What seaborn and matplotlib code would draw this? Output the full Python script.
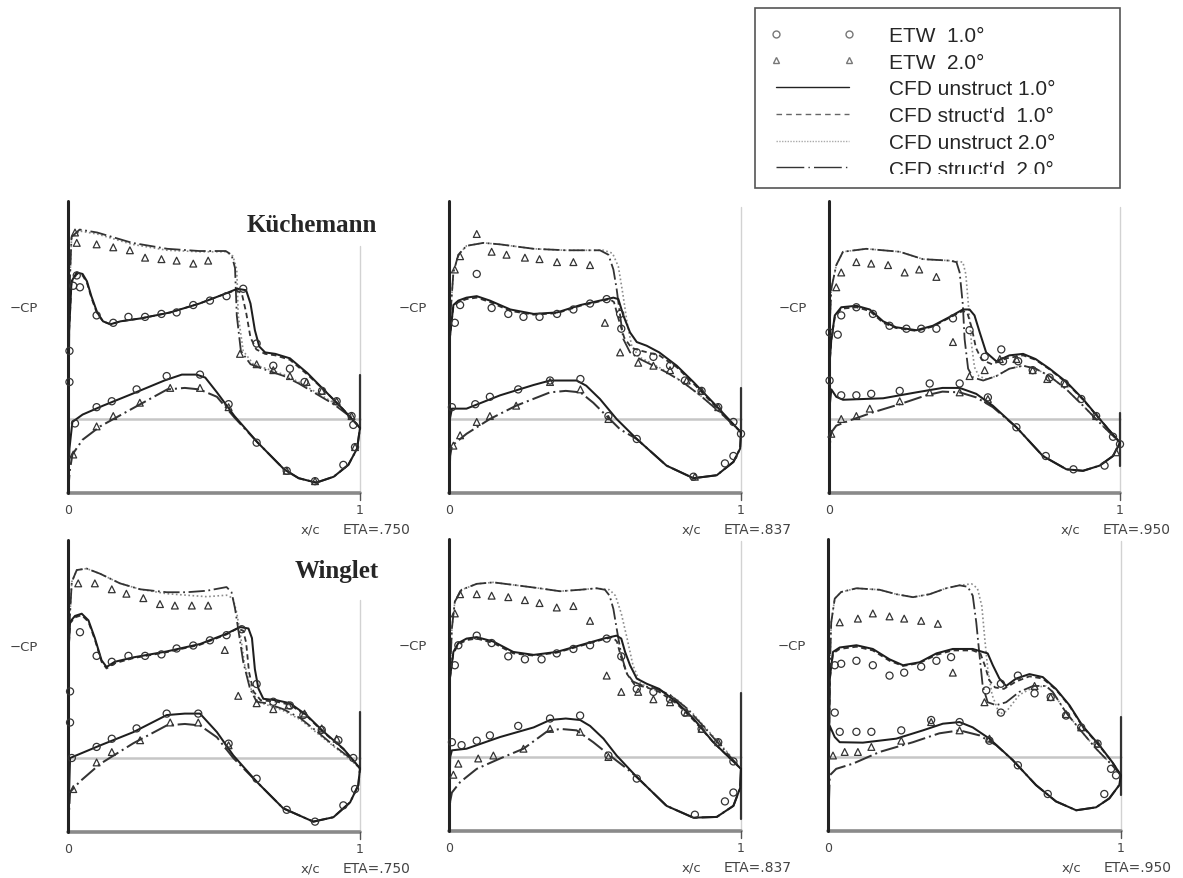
import matplotlib
matplotlib.use("Agg")
import matplotlib.pyplot as plt
from matplotlib.lines import Line2D
from matplotlib.patches import Rectangle
import seaborn as sns

sns.set_style("white")
plt.rcParams['font.family'] = ['DejaVu Sans']

# ---- data: (x/c, -Cp) ----
# Kuechemann tip, ETA=.750
k750_u10 = [(0, -0.5), (0.004, 0.6), (0.012, 0.93), (0.03, 0.99), (0.05, 0.98), (0.065, 0.93), (0.08, 0.83),
            (0.1, 0.72), (0.12, 0.66), (0.145, 0.64), (0.18, 0.66), (0.25, 0.68), (0.35, 0.72), (0.45, 0.78),
            (0.53, 0.84), (0.58, 0.88), (0.61, 0.87), (0.625, 0.78), (0.64, 0.6), (0.655, 0.49), (0.675, 0.45),
            (0.71, 0.44), (0.76, 0.41), (0.82, 0.31), (0.88, 0.19), (0.94, 0.07), (1.0, -0.06)]
k750_s10 = [(0, -0.5), (0.004, 0.6), (0.012, 0.92), (0.03, 0.98), (0.05, 0.97), (0.065, 0.92), (0.08, 0.82),
            (0.1, 0.71), (0.12, 0.66), (0.145, 0.64), (0.18, 0.66), (0.25, 0.68), (0.35, 0.72), (0.45, 0.78),
            (0.53, 0.84), (0.575, 0.87), (0.595, 0.85), (0.61, 0.72), (0.625, 0.55), (0.645, 0.47), (0.675, 0.44),
            (0.71, 0.43), (0.76, 0.40), (0.82, 0.30), (0.88, 0.19), (0.94, 0.07), (1.0, -0.06)]
k750_u20 = [(0, -0.5), (0.004, 0.8), (0.012, 1.22), (0.04, 1.27), (0.1, 1.25), (0.22, 1.18), (0.34, 1.14),
            (0.45, 1.13), (0.54, 1.13), (0.565, 1.1), (0.578, 1.01), (0.583, 0.7), (0.6, 0.46), (0.635, 0.37),
            (0.68, 0.34), (0.74, 0.3), (0.79, 0.25), (0.85, 0.18), (0.91, 0.11), (0.97, 0.02), (1.0, -0.06)]
k750_s20 = [(0, -0.5), (0.004, 0.8), (0.012, 1.23), (0.04, 1.28), (0.1, 1.26), (0.22, 1.19), (0.34, 1.15),
            (0.45, 1.135), (0.54, 1.135), (0.56, 1.11), (0.572, 1.02), (0.578, 0.7), (0.592, 0.46), (0.625, 0.37),
            (0.68, 0.33), (0.74, 0.29), (0.79, 0.24), (0.85, 0.17), (0.91, 0.1), (0.97, 0.01), (1.0, -0.06)]
k750_lo10 = [(0, -0.5), (0.005, -0.2), (0.015, -0.02), (0.05, 0.03), (0.12, 0.09), (0.22, 0.17), (0.33, 0.26),
             (0.39, 0.3), (0.44, 0.3), (0.47, 0.28), (0.51, 0.18), (0.57, 0.02), (0.65, -0.16), (0.74, -0.34),
             (0.79, -0.4), (0.85, -0.43), (0.91, -0.39), (0.96, -0.31), (0.99, -0.2), (1.0, -0.06)]
k750_lo20 = [(0, -0.5), (0.006, -0.35), (0.015, -0.24), (0.05, -0.14), (0.11, -0.05), (0.22, 0.07), (0.34, 0.2),
             (0.4, 0.21), (0.45, 0.2), (0.51, 0.15), (0.57, 0.01), (0.65, -0.16), (0.74, -0.34), (0.79, -0.4),
             (0.85, -0.43), (0.91, -0.39), (0.96, -0.31), (0.99, -0.2), (1.0, -0.06)]
k750_etw10 = [(0.03, 0.97), (0.018, 0.9), (0.041, 0.89), (0.098, 0.7), (0.155, 0.65), (0.207, 0.69), (0.264, 0.69),
              (0.32, 0.71), (0.372, 0.72), (0.429, 0.77), (0.486, 0.8), (0.543, 0.83), (0.6, 0.88), (0.646, 0.51),
              (0.703, 0.36), (0.76, 0.34), (0.81, 0.25), (0.87, 0.19), (0.92, 0.12), (0.971, 0.02),
              (0.005, 0.46), (0.005, 0.25), (0.024, -0.03), (0.098, 0.08), (0.15, 0.12), (0.235, 0.2), (0.338, 0.29),
              (0.452, 0.3), (0.55, 0.1), (0.646, -0.16), (0.749, -0.35), (0.846, -0.42), (0.943, -0.31),
              (0.983, -0.19), (0.977, -0.04)]
k750_etw20 = [(0.024, 1.26), (0.03, 1.19), (0.098, 1.18), (0.155, 1.16), (0.212, 1.14), (0.264, 1.09), (0.32, 1.08),
              (0.372, 1.07), (0.429, 1.05), (0.48, 1.07), (0.589, 0.44), (0.646, 0.37), (0.703, 0.33), (0.76, 0.29),
              (0.817, 0.25), (0.869, 0.19), (0.92, 0.12), (0.971, 0.02),
              (0.018, -0.24), (0.098, -0.05), (0.155, 0.02), (0.246, 0.11), (0.35, 0.21), (0.452, 0.21),
              (0.55, 0.08), (0.749, -0.35), (0.846, -0.42), (0.983, -0.19)]

# Kuechemann tip, ETA=.837
k837_u10 = [(0, -0.5), (0.003, 0.55), (0.015, 0.77), (0.032, 0.8), (0.06, 0.82), (0.095, 0.83), (0.14, 0.8),
            (0.21, 0.74), (0.29, 0.71), (0.37, 0.72), (0.45, 0.77), (0.517, 0.8), (0.563, 0.82), (0.58, 0.81),
            (0.597, 0.70), (0.62, 0.585), (0.643, 0.52), (0.677, 0.495), (0.72, 0.45), (0.78, 0.36), (0.837, 0.25),
            (0.905, 0.11), (1.0, -0.09)]
k837_s10 = [(0, -0.5), (0.003, 0.55), (0.015, 0.76), (0.032, 0.79), (0.06, 0.81), (0.095, 0.82), (0.14, 0.79),
            (0.21, 0.73), (0.29, 0.705), (0.37, 0.715), (0.45, 0.765), (0.517, 0.795), (0.55, 0.81), (0.565, 0.79),
            (0.58, 0.68), (0.6, 0.55), (0.625, 0.48), (0.66, 0.46), (0.72, 0.43), (0.78, 0.35), (0.837, 0.24),
            (0.905, 0.1), (1.0, -0.09)]
k837_u20 = [(0, -0.5), (0.003, 0.65), (0.015, 0.99), (0.032, 1.11), (0.06, 1.17), (0.118, 1.19), (0.175, 1.18),
            (0.29, 1.15), (0.40, 1.14), (0.53, 1.14), (0.56, 1.12), (0.58, 1.03), (0.595, 0.85), (0.61, 0.65),
            (0.625, 0.5), (0.65, 0.42), (0.70, 0.37), (0.745, 0.32), (0.80, 0.25), (0.86, 0.16), (0.928, 0.045),
            (1.0, -0.09)]
k837_s20 = [(0, -0.5), (0.003, 0.65), (0.015, 0.99), (0.032, 1.11), (0.06, 1.17), (0.118, 1.19), (0.175, 1.18),
            (0.29, 1.15), (0.40, 1.14), (0.517, 1.14), (0.546, 1.11), (0.563, 1.01), (0.574, 0.88), (0.586, 0.70),
            (0.597, 0.54), (0.62, 0.45), (0.654, 0.405), (0.70, 0.36), (0.745, 0.315), (0.80, 0.25), (0.86, 0.16),
            (0.928, 0.045), (1.0, -0.09)]
k837_lo10 = [(0, -0.5), (0.003, 0.0), (0.01, 0.07), (0.06, 0.07), (0.175, 0.16), (0.29, 0.23), (0.346, 0.26),
             (0.40, 0.26), (0.437, 0.26), (0.47, 0.225), (0.517, 0.135), (0.574, 0.0), (0.643, -0.135),
             (0.745, -0.315), (0.837, -0.40), (0.917, -0.38), (0.974, -0.29), (0.997, -0.2), (1.0, -0.09)]
k837_lo20 = [(0, -0.5), (0.004, -0.25), (0.01, -0.18), (0.06, -0.10), (0.14, 0.0), (0.23, 0.09), (0.346, 0.18),
             (0.40, 0.19), (0.45, 0.18), (0.494, 0.11), (0.54, 0.02), (0.586, -0.07), (0.643, -0.135),
             (0.745, -0.315), (0.837, -0.40), (0.917, -0.38), (0.974, -0.29), (0.997, -0.2), (1.0, -0.09)]
k837_etw10 = [(0.095, 0.98), (0.02, 0.65), (0.038, 0.77), (0.146, 0.75), (0.203, 0.71), (0.255, 0.69), (0.31, 0.69),
              (0.37, 0.71), (0.426, 0.74), (0.483, 0.78), (0.54, 0.81), (0.586, 0.71), (0.59, 0.61), (0.643, 0.45),
              (0.70, 0.42), (0.757, 0.36), (0.808, 0.26), (0.865, 0.19), (0.922, 0.08), (0.974, -0.02),
              (0.01, 0.08), (0.09, 0.1), (0.14, 0.15), (0.237, 0.2), (0.346, 0.26), (0.45, 0.27), (0.546, 0.02),
              (0.643, -0.135), (0.837, -0.39), (0.945, -0.3), (0.974, -0.25), (1.0, -0.1)]
k837_etw20 = [(0.095, 1.25), (0.02, 1.01), (0.038, 1.10), (0.146, 1.13), (0.197, 1.11), (0.26, 1.09), (0.31, 1.08),
              (0.37, 1.06), (0.426, 1.06), (0.483, 1.04), (0.534, 0.65), (0.586, 0.45), (0.648, 0.38), (0.70, 0.36),
              (0.757, 0.33), (0.814, 0.26), (0.865, 0.19), (0.922, 0.08),
              (0.015, -0.18), (0.038, -0.11), (0.095, -0.02), (0.14, 0.02), (0.23, 0.09), (0.346, 0.25),
              (0.45, 0.2), (0.546, 0.0), (0.842, -0.39)]

# Kuechemann tip, ETA=.950
k950_u10 = [(0, -0.5), (0.003, 0.4), (0.008, 0.54), (0.02, 0.70), (0.042, 0.755), (0.094, 0.765), (0.14, 0.74),
            (0.186, 0.66), (0.23, 0.62), (0.30, 0.60), (0.357, 0.63), (0.415, 0.69), (0.46, 0.74), (0.483, 0.74),
            (0.50, 0.70), (0.518, 0.585), (0.54, 0.45), (0.575, 0.39), (0.62, 0.43), (0.667, 0.44), (0.71, 0.405),
            (0.758, 0.34), (0.816, 0.25), (0.873, 0.135), (0.93, 0.0), (1.0, -0.16)]
k950_s10 = [(0, -0.5), (0.003, 0.4), (0.008, 0.53), (0.02, 0.69), (0.042, 0.745), (0.094, 0.755), (0.14, 0.73),
            (0.186, 0.65), (0.23, 0.615), (0.30, 0.595), (0.357, 0.625), (0.415, 0.685), (0.46, 0.73),
            (0.475, 0.72), (0.49, 0.62), (0.505, 0.48), (0.525, 0.40), (0.56, 0.37), (0.61, 0.41), (0.667, 0.43),
            (0.71, 0.40), (0.758, 0.335), (0.816, 0.245), (0.873, 0.13), (0.93, 0.0), (1.0, -0.16)]
k950_u20 = [(0, -0.5), (0.004, 0.7), (0.008, 0.88), (0.025, 1.04), (0.048, 1.13), (0.128, 1.15), (0.243, 1.13),
            (0.323, 1.08), (0.415, 1.07), (0.46, 1.06), (0.47, 0.98), (0.48, 0.75), (0.49, 0.5), (0.5, 0.35),
            (0.515, 0.29), (0.54, 0.27), (0.575, 0.29), (0.62, 0.34), (0.667, 0.36), (0.71, 0.34), (0.758, 0.29),
            (0.816, 0.2), (0.873, 0.09), (0.94, -0.045), (1.0, -0.16)]
k950_s20 = [(0, -0.5), (0.004, 0.7), (0.008, 0.88), (0.025, 1.04), (0.048, 1.13), (0.128, 1.15), (0.243, 1.13),
            (0.323, 1.08), (0.415, 1.07), (0.438, 1.06), (0.449, 0.99), (0.46, 0.77), (0.466, 0.54), (0.478, 0.34),
            (0.495, 0.28), (0.53, 0.26), (0.575, 0.29), (0.62, 0.34), (0.667, 0.36), (0.71, 0.34), (0.758, 0.29),
            (0.816, 0.2), (0.873, 0.09), (0.94, -0.045), (1.0, -0.16)]
k950_lo10 = [(0, -0.5), (0.003, 0.1), (0.008, 0.2), (0.025, 0.15), (0.048, 0.13), (0.186, 0.14), (0.30, 0.18),
             (0.39, 0.21), (0.449, 0.21), (0.506, 0.17), (0.563, 0.09), (0.644, -0.056), (0.735, -0.25),
             (0.816, -0.34), (0.873, -0.35), (0.93, -0.315), (0.976, -0.25), (1.0, -0.16)]
k950_lo20 = [(0, -0.5), (0.004, -0.15), (0.008, -0.09), (0.025, -0.045), (0.071, -0.01), (0.151, 0.045),
             (0.243, 0.10), (0.334, 0.16), (0.39, 0.185), (0.449, 0.18), (0.506, 0.146), (0.563, 0.08),
             (0.644, -0.056), (0.735, -0.25), (0.816, -0.34), (0.873, -0.35), (0.93, -0.315), (0.976, -0.25),
             (1.0, -0.16)]
k950_etw10 = [(0.002, 0.585), (0.03, 0.57), (0.042, 0.70), (0.094, 0.755), (0.151, 0.71), (0.208, 0.63),
              (0.266, 0.61), (0.317, 0.61), (0.369, 0.61), (0.426, 0.68), (0.483, 0.60), (0.535, 0.42),
              (0.592, 0.47), (0.598, 0.39), (0.65, 0.39), (0.70, 0.33), (0.758, 0.28), (0.81, 0.24), (0.867, 0.135),
              (0.918, 0.02), (0.976, -0.12), (0.947, -0.315),
              (0.002, 0.26), (0.042, 0.16), (0.094, 0.16), (0.145, 0.17), (0.243, 0.19), (0.346, 0.24),
              (0.449, 0.24), (0.546, 0.146), (0.644, -0.056), (0.745, -0.25), (0.84, -0.34), (1.0, -0.17)]
k950_etw20 = [(0.025, 0.89), (0.042, 0.99), (0.094, 1.06), (0.145, 1.05), (0.203, 1.04), (0.26, 0.99), (0.31, 1.01),
              (0.369, 0.96), (0.426, 0.52), (0.483, 0.29), (0.535, 0.33), (0.587, 0.405), (0.644, 0.405),
              (0.70, 0.33), (0.75, 0.27), (0.81, 0.24), (0.918, 0.02), (0.987, -0.225),
              (0.008, -0.1), (0.042, 0.0), (0.094, 0.02), (0.14, 0.07), (0.243, 0.12), (0.346, 0.18),
              (0.449, 0.18), (0.546, 0.135)]

# Winglet, ETA=.750
w750_u10 = [(0, -0.5), (0.0, 0.65), (0.007, 0.92), (0.024, 0.96), (0.047, 0.975), (0.07, 0.93), (0.092, 0.81),
            (0.115, 0.66), (0.132, 0.615), (0.16, 0.65), (0.224, 0.68), (0.338, 0.72), (0.452, 0.77), (0.543, 0.84),
            (0.589, 0.885), (0.618, 0.875), (0.63, 0.81), (0.64, 0.60), (0.652, 0.47), (0.669, 0.40), (0.715, 0.39),
            (0.76, 0.37), (0.817, 0.29), (0.874, 0.18), (0.943, 0.063), (1.0, -0.07)]
w750_s10 = [(0, -0.5), (0.0, 0.65), (0.007, 0.91), (0.024, 0.95), (0.047, 0.965), (0.07, 0.92), (0.092, 0.80),
            (0.115, 0.65), (0.132, 0.605), (0.16, 0.64), (0.224, 0.675), (0.338, 0.715), (0.452, 0.765),
            (0.543, 0.835), (0.58, 0.875), (0.60, 0.86), (0.61, 0.78), (0.62, 0.58), (0.635, 0.45), (0.66, 0.39),
            (0.715, 0.38), (0.76, 0.36), (0.817, 0.285), (0.874, 0.175), (0.943, 0.06), (1.0, -0.07)]
w750_u20 = [(0, -0.5), (0.004, 0.87), (0.013, 1.19), (0.03, 1.27), (0.064, 1.28), (0.11, 1.245), (0.178, 1.18),
            (0.247, 1.14), (0.338, 1.11), (0.406, 1.10), (0.475, 1.09), (0.543, 1.10), (0.565, 1.08), (0.578, 0.98),
            (0.59, 0.84), (0.605, 0.63), (0.628, 0.46), (0.65, 0.38), (0.68, 0.36), (0.737, 0.32), (0.795, 0.26),
            (0.852, 0.17), (0.909, 0.08), (0.966, -0.01), (1.0, -0.07)]
w750_s20 = [(0, -0.5), (0.004, 0.87), (0.013, 1.19), (0.03, 1.27), (0.064, 1.28), (0.11, 1.245), (0.178, 1.18),
            (0.247, 1.14), (0.338, 1.12), (0.406, 1.12), (0.475, 1.13), (0.543, 1.155), (0.56, 1.12), (0.572, 1.01),
            (0.583, 0.87), (0.60, 0.65), (0.623, 0.47), (0.646, 0.38), (0.68, 0.37), (0.737, 0.33), (0.795, 0.27),
            (0.852, 0.18), (0.909, 0.086), (0.966, 0.0), (1.0, -0.07)]
w750_lo10 = [(0, -0.5), (0.007, 0.0), (0.11, 0.085), (0.224, 0.175), (0.338, 0.29), (0.40, 0.30), (0.452, 0.30),
             (0.51, 0.175), (0.566, 0.018), (0.646, -0.16), (0.737, -0.34), (0.84, -0.43), (0.909, -0.40),
             (0.966, -0.30), (0.994, -0.185), (1.0, -0.07)]
w750_lo20 = [(0, -0.5), (0.007, -0.23), (0.04, -0.16), (0.11, -0.04), (0.224, 0.10), (0.338, 0.22), (0.40, 0.23),
             (0.452, 0.22), (0.51, 0.14), (0.566, 0.0), (0.646, -0.16), (0.737, -0.34), (0.84, -0.43),
             (0.909, -0.40), (0.966, -0.30), (0.994, -0.185), (1.0, -0.07)]
w750_etw10 = [(0.041, 0.85), (0.098, 0.69), (0.15, 0.65), (0.207, 0.69), (0.264, 0.69), (0.32, 0.70), (0.372, 0.74),
              (0.429, 0.76), (0.486, 0.795), (0.543, 0.83), (0.595, 0.87), (0.646, 0.50), (0.703, 0.38),
              (0.76, 0.355), (0.806, 0.29), (0.869, 0.19), (0.926, 0.12), (0.977, 0.0),
              (0.007, 0.45), (0.007, 0.24), (0.013, 0.0), (0.098, 0.075), (0.15, 0.13), (0.235, 0.2), (0.338, 0.30),
              (0.446, 0.30), (0.55, 0.097), (0.646, -0.14), (0.749, -0.35), (0.846, -0.43), (0.943, -0.32),
              (0.983, -0.21)]
w750_etw20 = [(0.035, 1.18), (0.092, 1.18), (0.15, 1.14), (0.20, 1.11), (0.258, 1.08), (0.315, 1.04), (0.366, 1.03),
              (0.424, 1.03), (0.48, 1.03), (0.537, 0.73), (0.583, 0.42), (0.646, 0.37), (0.703, 0.33),
              (0.755, 0.356), (0.81, 0.30), (0.869, 0.2), (0.92, 0.13),
              (0.018, -0.21), (0.098, -0.03), (0.15, 0.04), (0.247, 0.12), (0.35, 0.24), (0.446, 0.24),
              (0.55, 0.086)]

# Winglet, ETA=.837
w837_u10 = [(0, -0.5), (0.003, 0.53), (0.015, 0.71), (0.032, 0.77), (0.06, 0.80), (0.095, 0.81), (0.152, 0.78),
            (0.22, 0.71), (0.29, 0.69), (0.369, 0.71), (0.449, 0.755), (0.529, 0.80), (0.574, 0.82), (0.59, 0.80),
            (0.603, 0.71), (0.62, 0.62), (0.643, 0.53), (0.677, 0.495), (0.72, 0.46), (0.78, 0.37), (0.837, 0.26),
            (0.905, 0.10), (1.0, -0.08)]
w837_s10 = [(0, -0.5), (0.003, 0.53), (0.015, 0.70), (0.032, 0.76), (0.06, 0.79), (0.095, 0.80), (0.152, 0.77),
            (0.22, 0.70), (0.29, 0.685), (0.369, 0.705), (0.449, 0.75), (0.529, 0.795), (0.56, 0.81), (0.575, 0.78),
            (0.59, 0.67), (0.61, 0.56), (0.635, 0.49), (0.677, 0.47), (0.72, 0.44), (0.78, 0.36), (0.837, 0.25),
            (0.905, 0.10), (1.0, -0.08)]
w837_u20 = [(0, -0.5), (0.003, 0.53), (0.01, 0.87), (0.02, 1.05), (0.043, 1.13), (0.095, 1.17), (0.152, 1.18),
            (0.232, 1.16), (0.31, 1.14), (0.38, 1.12), (0.449, 1.13), (0.506, 1.14), (0.55, 1.13), (0.57, 1.09),
            (0.59, 0.97), (0.61, 0.8), (0.63, 0.62), (0.655, 0.5), (0.69, 0.46), (0.73, 0.44), (0.78, 0.39),
            (0.837, 0.29), (0.9, 0.15), (0.95, 0.04), (1.0, -0.08)]
w837_s20 = [(0, -0.5), (0.003, 0.53), (0.01, 0.87), (0.02, 1.05), (0.043, 1.13), (0.095, 1.17), (0.152, 1.18),
            (0.232, 1.16), (0.31, 1.14), (0.38, 1.12), (0.449, 1.13), (0.506, 1.14), (0.534, 1.13), (0.55, 1.09),
            (0.563, 1.0), (0.574, 0.87), (0.59, 0.69), (0.608, 0.57), (0.63, 0.51), (0.666, 0.48), (0.71, 0.46),
            (0.757, 0.42), (0.814, 0.33), (0.87, 0.21), (0.928, 0.08), (1.0, -0.08)]
w837_lo10 = [(0, -0.5), (0.004, 0.0), (0.01, 0.045), (0.06, 0.056), (0.175, 0.135), (0.29, 0.2), (0.346, 0.25),
             (0.40, 0.26), (0.449, 0.25), (0.483, 0.21), (0.529, 0.124), (0.574, 0.01), (0.643, -0.135),
             (0.745, -0.33), (0.837, -0.41), (0.917, -0.405), (0.974, -0.33), (0.997, -0.21), (1.0, -0.08)]
w837_lo20 = [(0, -0.5), (0.004, -0.3), (0.01, -0.24), (0.038, -0.17), (0.095, -0.08), (0.175, -0.01),
             (0.255, 0.056), (0.334, 0.17), (0.38, 0.19), (0.437, 0.18), (0.494, 0.10), (0.551, 0.01),
             (0.61, -0.08), (0.643, -0.135), (0.745, -0.33), (0.837, -0.41), (0.917, -0.405), (0.974, -0.33),
             (0.997, -0.21), (1.0, -0.08)]
w837_etw10 = [(0.02, 0.62), (0.032, 0.755), (0.095, 0.82), (0.146, 0.77), (0.203, 0.68), (0.26, 0.66),
              (0.317, 0.66), (0.369, 0.70), (0.426, 0.73), (0.483, 0.755), (0.54, 0.80), (0.59, 0.68),
              (0.643, 0.46), (0.70, 0.44), (0.757, 0.39), (0.808, 0.30), (0.865, 0.19), (0.922, 0.10),
              (0.974, -0.03),
              (0.01, 0.10), (0.043, 0.08), (0.095, 0.11), (0.14, 0.146), (0.237, 0.21), (0.346, 0.26),
              (0.449, 0.28), (0.546, 0.01), (0.643, -0.146), (0.842, -0.39), (0.945, -0.30), (0.974, -0.24)]
w837_etw20 = [(0.02, 0.97), (0.038, 1.10), (0.095, 1.10), (0.146, 1.09), (0.203, 1.08), (0.26, 1.06), (0.31, 1.04),
              (0.369, 1.01), (0.426, 1.02), (0.483, 0.92), (0.54, 0.55), (0.59, 0.44), (0.648, 0.44), (0.70, 0.39),
              (0.757, 0.37), (0.814, 0.30), (0.865, 0.19), (0.922, 0.10),
              (0.015, -0.12), (0.032, -0.045), (0.10, -0.01), (0.152, 0.01), (0.255, 0.056), (0.346, 0.19),
              (0.449, 0.17), (0.546, 0.0)]

# Winglet, ETA=.950
w950_u10 = [(0, -0.5), (0.006, 0.53), (0.017, 0.71), (0.04, 0.74), (0.097, 0.755), (0.153, 0.73), (0.21, 0.66),
            (0.256, 0.62), (0.3125, 0.64), (0.37, 0.70), (0.426, 0.73), (0.494, 0.73), (0.528, 0.71), (0.545, 0.70),
            (0.5625, 0.62), (0.585, 0.53), (0.608, 0.48), (0.642, 0.53), (0.6875, 0.56), (0.733, 0.54),
            (0.778, 0.46), (0.824, 0.35), (0.869, 0.21), (0.926, 0.08), (0.97, -0.034), (1.0, -0.124)]
w950_s10 = [(0, -0.5), (0.006, 0.52), (0.017, 0.70), (0.04, 0.73), (0.097, 0.745), (0.153, 0.72), (0.21, 0.65),
            (0.256, 0.615), (0.3125, 0.635), (0.37, 0.69), (0.426, 0.72), (0.494, 0.72), (0.52, 0.70),
            (0.535, 0.62), (0.55, 0.52), (0.57, 0.47), (0.6, 0.46), (0.642, 0.51), (0.6875, 0.545), (0.733, 0.53),
            (0.778, 0.455), (0.824, 0.345), (0.869, 0.205), (0.926, 0.075), (0.97, -0.034), (1.0, -0.124)]
w950_u20 = [(0, -0.5), (0.006, 0.57), (0.011, 0.91), (0.023, 1.07), (0.045, 1.115), (0.097, 1.14), (0.176, 1.13),
            (0.233, 1.10), (0.29, 1.08), (0.347, 1.10), (0.403, 1.14), (0.449, 1.16), (0.49, 1.17), (0.51, 1.14),
            (0.525, 1.02), (0.535, 0.8), (0.545, 0.6), (0.56, 0.42), (0.585, 0.29), (0.61, 0.31), (0.653, 0.42),
            (0.70, 0.47), (0.744, 0.48), (0.767, 0.44), (0.8125, 0.30), (0.858, 0.19), (0.915, 0.056),
            (0.97, -0.056), (1.0, -0.124)]
w950_s20 = [(0, -0.5), (0.006, 0.57), (0.011, 0.91), (0.023, 1.07), (0.045, 1.115), (0.097, 1.14), (0.176, 1.13),
            (0.233, 1.10), (0.29, 1.08), (0.347, 1.10), (0.403, 1.14), (0.449, 1.16), (0.477, 1.15), (0.494, 1.09),
            (0.506, 0.91), (0.517, 0.69), (0.528, 0.48), (0.545, 0.37), (0.574, 0.35), (0.608, 0.37),
            (0.653, 0.44), (0.70, 0.48), (0.744, 0.48), (0.767, 0.44), (0.8125, 0.30), (0.858, 0.19),
            (0.915, 0.056), (0.97, -0.056), (1.0, -0.124)]
w950_lo10 = [(0, -0.5), (0.003, 0.1), (0.006, 0.21), (0.023, 0.135), (0.04, 0.10), (0.119, 0.097), (0.233, 0.124),
             (0.324, 0.18), (0.392, 0.225), (0.449, 0.236), (0.494, 0.20), (0.551, 0.124), (0.63, -0.02),
             (0.71, -0.19), (0.778, -0.30), (0.847, -0.36), (0.915, -0.34), (0.96, -0.28), (0.994, -0.19),
             (1.0, -0.124)]
w950_lo20 = [(0, -0.5), (0.006, -0.124), (0.028, -0.08), (0.085, -0.045), (0.176, 0.034), (0.29, 0.10),
             (0.38, 0.16), (0.449, 0.18), (0.517, 0.146), (0.574, 0.08), (0.63, -0.02), (0.71, -0.19),
             (0.778, -0.30), (0.847, -0.36), (0.915, -0.34), (0.96, -0.28), (0.994, -0.19), (1.0, -0.124)]
w950_etw10 = [(0.023, 0.62), (0.045, 0.63), (0.097, 0.65), (0.153, 0.62), (0.21, 0.55), (0.26, 0.57),
              (0.318, 0.61), (0.37, 0.65), (0.42, 0.675), (0.54, 0.45), (0.59, 0.495), (0.648, 0.55), (0.59, 0.30),
              (0.705, 0.43), (0.76, 0.405), (0.8125, 0.28), (0.864, 0.2), (0.92, 0.09), (0.966, -0.08),
              (0.983, -0.124), (0.943, -0.25),
              (0.023, 0.30), (0.04, 0.17), (0.097, 0.17), (0.148, 0.17), (0.25, 0.18), (0.352, 0.25),
              (0.449, 0.236), (0.551, 0.11), (0.648, -0.056), (0.75, -0.25)]
w950_etw20 = [(0.04, 0.91), (0.102, 0.935), (0.153, 0.97), (0.21, 0.95), (0.26, 0.935), (0.318, 0.92),
              (0.375, 0.90), (0.426, 0.57), (0.534, 0.37), (0.705, 0.48), (0.76, 0.405), (0.8125, 0.29),
              (0.864, 0.2), (0.92, 0.09),
              (0.017, 0.01), (0.057, 0.034), (0.102, 0.034), (0.148, 0.068), (0.25, 0.11), (0.352, 0.236),
              (0.449, 0.18), (0.551, 0.124)]

eta_labels = ['ETA=.750', 'ETA=.837', 'ETA=.950']
legend_labels = ['ETW  1.0°', 'ETW  2.0°', 'CFD unstruct 1.0°', 'CFD struct‘d  1.0°',
                 'CFD unstruct 2.0°', 'CFD struct‘d  2.0°']

panels = [
    # px: (x/c=0 px, x/c=1 px, -Cp=0 px); rtop: top of right frame line; te: trailing-edge bar
    dict(px=(68, 360, 420), rtop=1.17, te=(0.30, -0.07), eta=eta_labels[0],
         u10=k750_u10, s10=k750_s10, u20=k750_u20, s20=k750_s20, lo10=k750_lo10, lo20=k750_lo20,
         e10=k750_etw10, e20=k750_etw20, cpx=-0.15),
    dict(px=(449, 741, 420), rtop=1.43, te=(0.21, -0.10), eta=eta_labels[1],
         u10=k837_u10, s10=k837_s10, u20=k837_u20, s20=k837_s20, lo10=k837_lo10, lo20=k837_lo20,
         e10=k837_etw10, e20=k837_etw20, cpx=-0.125),
    dict(px=(829, 1120, 420), rtop=1.43, te=(0.04, -0.32), eta=eta_labels[2],
         u10=k950_u10, s10=k950_s10, u20=k950_u20, s20=k950_s20, lo10=k950_lo10, lo20=k950_lo20,
         e10=k950_etw10, e20=k950_etw20, cpx=-0.125),
    dict(px=(68, 360, 759), rtop=1.07, te=(0.31, -0.08), eta=eta_labels[0],
         u10=w750_u10, s10=w750_s10, u20=w750_u20, s20=w750_s20, lo10=w750_lo10, lo20=w750_lo20,
         e10=w750_etw10, e20=w750_etw20, cpx=-0.15),
    dict(px=(449, 741, 758), rtop=1.46, te=(0.43, -0.42), eta=eta_labels[1],
         u10=w837_u10, s10=w837_s10, u20=w837_u20, s20=w837_s20, lo10=w837_lo10, lo20=w837_lo20,
         e10=w837_etw10, e20=w837_etw20, cpx=-0.125),
    dict(px=(828, 1121, 758), rtop=1.46, te=(0.27, -0.26), eta=eta_labels[2],
         u10=w950_u10, s10=w950_s10, u20=w950_u20, s20=w950_s20, lo10=w950_lo10, lo20=w950_lo20,
         e10=w950_etw10, e20=w950_etw20, cpx=-0.125),
]

W, H = 1183, 879
XL = (-0.2, 1.2)
YL = (-0.5, 1.47)
PXU = 148  # pixels per unit of -Cp

DASHED = (0, (3, 2))
DOTTED = (0, (1, 1.5))
DASHDOT = (0, (9, 2, 1, 2))
INK = '#1e1e1e'


def xy(pts):
    return [p[0] for p in pts], [p[1] for p in pts]


fig = plt.figure(figsize=(W / 100, H / 100), dpi=100)
axes = []
for p in panels:
    x0, x1, yz = p['px']
    w = x1 - x0
    left, right = x0 + XL[0] * w, x0 + XL[1] * w
    bot, top = yz - YL[0] * PXU, yz - YL[1] * PXU
    ax = fig.add_axes([left / W, 1 - bot / H, (right - left) / W, (bot - top) / H])
    ax.set_xlim(*XL)
    ax.set_ylim(*YL)
    ax.axis('off')
    axes.append(ax)

    # frame of the plotter chart
    ax.plot([1, 1], [-0.5, p['rtop']], color='#d2d2d2', lw=1, clip_on=False, zorder=1)
    ax.plot([0, 1.0], [0, 0], color='#c6c6c6', lw=1.8, zorder=1)
    ax.plot([0, 1], [-0.5, -0.5], color='#8a8a8a', lw=2.6, clip_on=False, zorder=1)
    ax.plot([0, 0], [-0.5, YL[1]], color='#222222', lw=2.2, clip_on=False, zorder=3)
    ax.plot([1, 1], list(p['te']), color='#333333', lw=1.6, zorder=2)
    ax.plot([1, 1], [-0.5, -0.55], color='#555555', lw=1, clip_on=False)

    # CFD curves
    for key, ls, col, lw in [('u20', DOTTED, '#8c8c8c', 1.2), ('s20', DASHDOT, '#333333', 1.3),
                             ('s10', DASHED, '#333333', 1.3), ('u10', '-', INK, 1.45)]:
        xs, ys = xy(p[key])
        sns.lineplot(x=xs, y=ys, sort=False, estimator=None, ax=ax, color=col, lw=lw,
                     linestyle=ls, zorder=2)
    for key, col in [('lo20', '#333333'), ('lo10', INK)]:
        xs, ys = xy(p[key])
        sns.lineplot(x=xs, y=ys, sort=False, estimator=None, ax=ax, color=col, lw=1.45,
                     linestyle=DASHDOT if key == 'lo20' else '-', zorder=2)

    # ETW measurements
    xs, ys = xy(p['e10'])
    sns.scatterplot(x=xs, y=ys, marker='o', s=26, facecolor='none', edgecolor='#333333',
                    linewidth=0.9, ax=ax, zorder=4)
    xs, ys = xy(p['e20'])
    sns.scatterplot(x=xs, y=ys, marker='^', s=24, facecolor='none', edgecolor='#333333',
                    linewidth=0.9, ax=ax, zorder=4)

    # labels
    ax.text(0, -0.61, '0', ha='center', va='center', fontsize=9, color='#444444')
    ax.text(1, -0.61, '1', ha='center', va='center', fontsize=9, color='#444444')
    ax.text(0.83, -0.74, 'x/c', ha='center', va='center', fontsize=9.5, color='#444444')
    ax.text(0.94, -0.74, p['eta'], ha='left', va='center', fontsize=10, color='#444444')
    ax.text(p['cpx'], 0.75, '−CP', ha='center', va='center', fontsize=9.5, color='#444444')

axes[0].text(0.613, 1.27, 'Küchemann', fontfamily='Liberation Serif', fontweight='bold',
             fontsize=18, ha='left', va='baseline', zorder=6)
axes[3].text(0.777, 1.223, 'Winglet', fontfamily='Liberation Serif', fontweight='bold',
             fontsize=18, ha='left', va='baseline', zorder=6)

# legend (content without frame; frame drawn as its own box)
handles = [
    Line2D([], [], ls='none', marker='o', mfc='none', mec='#777777', ms=5, mew=1),
    Line2D([], [], ls='none', marker='^', mfc='none', mec='#777777', ms=5, mew=1),
    Line2D([], [], color='#222222', lw=1),
    Line2D([], [], color='#666666', lw=1, ls=(0, (4, 3))),
    Line2D([], [], color='#aaaaaa', lw=1, ls=(0, (1, 1))),
    Line2D([], [], color='#333333', lw=1, ls=(0, (20, 3, 1, 3))),
]
leg = fig.legend(handles, legend_labels, loc='upper left',
                 bbox_to_anchor=(755 / W, 1 - 190 / H, 365 / W, 178 / H), mode='expand',
                 borderaxespad=0, numpoints=2, handlelength=4.1, handletextpad=1.6,
                 labelspacing=0.37, borderpad=0.72, frameon=False,
                 prop={'family': 'Liberation Sans', 'size': 15})
fig.add_artist(Rectangle((758 / W, 1 - 187 / H), 358 / W, 12 / H, transform=fig.transFigure,
                         facecolor='white', edgecolor='none', zorder=10))
fig.add_artist(Rectangle((755 / W, 1 - 189 / H), 365 / W, 180 / H, transform=fig.transFigure,
                         facecolor='none', edgecolor='#555555', lw=1.2, zorder=11))

fig.savefig('out.png', dpi=100)
